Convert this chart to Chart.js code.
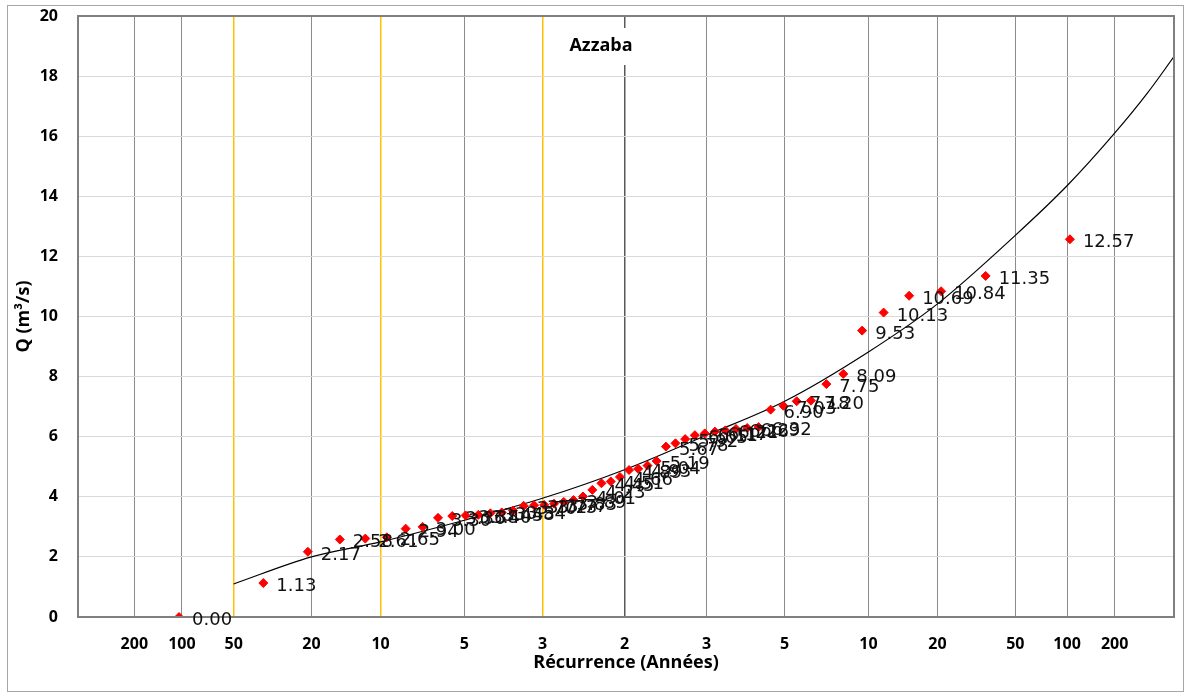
<!DOCTYPE html>
<html>
<head>
<meta charset="utf-8">
<title>Azzaba</title>
<script src="https://cdn.jsdelivr.net/npm/chart.js@4.4.1/dist/chart.umd.min.js"></script>
<style>
  body { margin: 0; background: #fff; }
  #wrap { width: 1186px; height: 697px; }
</style>
</head>
<body>
<div id="wrap"><canvas id="gumbel" width="1186" height="697"></canvas></div>
<script>
// Observed discharges (sorted) and their normal reduced variable
const debits = [0.00, 1.13, 2.17, 2.58, 2.61, 2.65, 2.94, 3.00, 3.30, 3.36, 3.38, 3.40, 3.45,
  3.48, 3.54, 3.70, 3.72, 3.73, 3.77, 3.83, 3.89, 4.01, 4.23, 4.45, 4.51, 4.66, 4.89, 4.93,
  5.04, 5.19, 5.67, 5.78, 5.92, 6.05, 6.11, 6.17, 6.21, 6.26, 6.29, 6.32, 6.90, 7.03, 7.18,
  7.20, 7.75, 8.09, 9.53, 10.13, 10.69, 10.84, 11.35, 12.57];
const variableReduite = [-2.341, -1.898, -1.664, -1.496, -1.362, -1.249, -1.150, -1.061, -0.980,
  -0.905, -0.835, -0.768, -0.705, -0.645, -0.586, -0.530, -0.475, -0.422, -0.370, -0.319,
  -0.268, -0.218, -0.169, -0.121, -0.072, -0.024, 0.024, 0.072, 0.121, 0.169, 0.218, 0.268,
  0.319, 0.370, 0.422, 0.475, 0.530, 0.586, 0.645, 0.705, 0.768, 0.835, 0.905, 0.980, 1.061,
  1.150, 1.249, 1.362, 1.496, 1.664, 1.898, 2.341];

// fitted curve
const courbeU = [-2.054, -1.645, -1.282, -0.842, -0.431, 0, 0.431, 0.842, 1.282, 1.645, 2.054, 2.326, 2.576, 2.75, 2.888];
const courbeQ = [1.10, 2.00, 2.50, 3.22, 3.95, 4.90, 6.05, 7.18, 8.82, 10.42, 12.70, 14.35, 16.10, 17.45, 18.65];

// return period axis
const recurrencePos = [-2.576, -2.326, -2.054, -1.645, -1.282, -0.842, -0.431, 0, 0.431, 0.842, 1.282, 1.645, 2.054, 2.326, 2.576];
const recurrenceLabels = ['200', '100', '50', '20', '10', '5', '3', '2', '3', '5', '10', '20', '50', '100', '200'];
const yTicks = [0, 2, 4, 6, 8, 10, 12, 14, 16, 18, 20];

const axisFont = { family: 'Open Sans', weight: 'bold', size: 16 };
const titleFont = { family: 'Open Sans', weight: 'bold', size: 18 };

const cadre = {
  id: 'cadre',
  beforeDraw(chart) {
    const c = chart.ctx;
    c.save();
    c.fillStyle = '#fff';
    c.fillRect(0, 0, chart.width, chart.height);
    c.strokeStyle = '#a6a6a6';
    c.lineWidth = 1;
    c.strokeRect(7.5, 5.5, 1176, 686);
    c.restore();
  },
  afterDatasetsDraw(chart) {
    const c = chart.ctx;
    const a = chart.chartArea;
    const xs = chart.scales.x, ys = chart.scales.y;
    c.save();
    // plot frame
    c.strokeStyle = '#7f7f7f';
    c.lineWidth = 2;
    c.strokeRect(a.left, a.top, a.right - a.left, a.bottom - a.top);
    // data labels
    c.fillStyle = '#111';
    c.font = '18px "DejaVu Sans"';
    c.textAlign = 'left';
    c.textBaseline = 'alphabetic';
    debits.forEach((q, i) => {
      const px = xs.getPixelForValue(variableReduite[i]);
      const py = ys.getPixelForValue(q);
      c.fillText(q.toFixed(2), px + 13, py + 8);
    });
    // title box
    c.fillStyle = '#fff';
    c.fillRect(563, 28, 77, 37);
    c.fillStyle = '#000';
    c.font = 'bold 18px "Open Sans"';
    c.textAlign = 'center';
    c.textBaseline = 'middle';
    c.fillText('Azzaba', 601, 46);
    c.restore();
  }
};

// yellow lines on the low-flow side: 50, 10 and 3 years
const lignesJaunes = [2, 4, 6];
function gridColour(ctx) {
  if (ctx.index === 7) return '#595959';
  if (lignesJaunes.includes(ctx.index)) return '#ffc000';
  return '#8c8c8c';
}
function gridWidth(ctx) {
  if (ctx.index === 7) return 1.5;
  if (lignesJaunes.includes(ctx.index)) return 1.5;
  return 1;
}

new Chart(document.getElementById('gumbel'), {
  type: 'scatter',
  data: {
    datasets: [
      {
        label: 'Observations',
        data: debits.map((q, i) => ({ x: variableReduite[i], y: q })),
        pointStyle: 'rectRot',
        pointRadius: 4.5,
        backgroundColor: '#ff0000',
        borderColor: '#ff0000',
        borderWidth: 1,
        showLine: false
      },
      {
        label: 'Ajustement',
        data: courbeQ.map((q, i) => ({ x: courbeU[i], y: q })),
        showLine: true,
        borderColor: '#000',
        borderWidth: 1.2,
        pointRadius: 0,
        cubicInterpolationMode: 'monotone',
        fill: false
      }
    ]
  },
  options: {
    responsive: false,
    animation: false,
    layout: { padding: { left: 0, right: 12, top: 16, bottom: 0 } },
    plugins: { legend: { display: false }, tooltip: { enabled: false }, title: { display: false } },
    scales: {
      x: {
        type: 'linear',
        min: -2.872,
        max: 2.888,
        afterBuildTicks: s => { s.ticks = recurrencePos.map(v => ({ value: v })); },
        afterFit: s => { s.height = 80; s.paddingLeft = 0; s.paddingRight = 0; },
        ticks: {
          autoSkip: false,
          maxRotation: 0,
          padding: 18,
          color: '#000',
          font: axisFont,
          callback: (v, i) => recurrenceLabels[i]
        },
        grid: { color: gridColour, lineWidth: gridWidth, drawTicks: false },
        border: { display: true, color: '#7f7f7f', width: 2 },
        title: { display: true, text: 'Récurrence (Années)', color: '#000', font: titleFont, padding: { top: 0, bottom: 23 } }
      },
      y: {
        min: 0,
        max: 20,
        afterBuildTicks: s => { s.ticks = yTicks.map(v => ({ value: v })); },
        afterFit: s => { s.width = 78; s.paddingTop = 0; s.paddingBottom = 0; },
        ticks: { padding: 20, color: '#000', font: axisFont },
        grid: { color: '#d9d9d9', lineWidth: 1, drawTicks: false },
        border: { display: true, color: '#7f7f7f', width: 2 },
        title: { display: true, text: 'Q (m³/s)', color: '#000', font: titleFont, padding: { top: 13, bottom: 0 } }
      }
    }
  },
  plugins: [cadre]
});
</script>
</body>
</html>
